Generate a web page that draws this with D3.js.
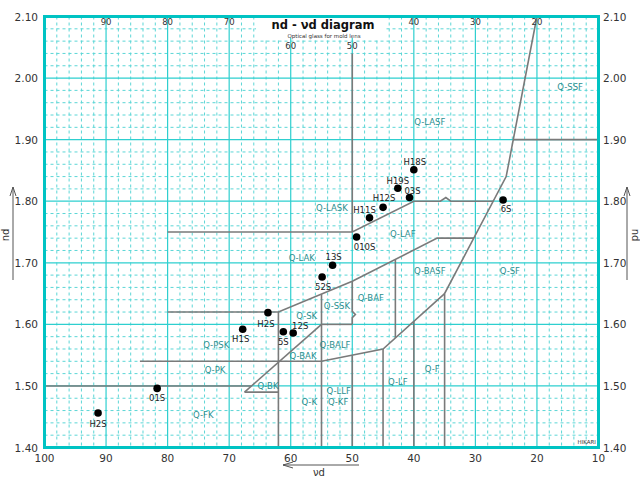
<!DOCTYPE html>
<html><head><meta charset="utf-8">
<script src="https://cdn.jsdelivr.net/npm/d3@7"></script>
<style>body{margin:0;background:#fff}svg{display:block}</style>
</head><body>
<svg id="c" width="640" height="477"></svg>
<script>
// ---- data ----
const xTicks = [100, 90, 80, 70, 60, 50, 40, 30, 20, 10];
const yTicks = [1.40, 1.50, 1.60, 1.70, 1.80, 1.90, 2.00, 2.10];
const glassNames = ["H18S","H19S","03S","H12S","H11S","010S","13S","52S","H2S","H1S","5S","12S","6S","01S","H2S"];
const glassVd =    [40.0, 42.6, 40.7, 45.0, 47.2, 49.3, 53.2, 54.9, 63.7, 67.8, 61.2, 59.6, 25.5, 81.7, 91.3];
const glassNd =    [1.851,1.821,1.806,1.790,1.773,1.742,1.696,1.677,1.619,1.592,1.588,1.586,1.802,1.496,1.456];
const regionNames = ["Q-SSF","Q-LASF","Q-LASK","Q-LAF","Q-LAK","Q-BASF","Q-SF","Q-BAF","Q-SSK","Q-SK","Q-PSK","Q-BALF","Q-BAK","Q-PK","Q-LF","Q-F","Q-BK","Q-LLF","Q-K","Q-KF","Q-FK"];
const regionVd = [14.6, 37.4, 53.3, 41.8, 58.2, 37.4, 24.4, 47.0, 52.5, 57.4, 72.1, 52.8, 58.0, 72.3, 42.6, 37.0, 63.7, 52.2, 57.0, 52.3, 74.2];
const regionNd = [1.986,1.930,1.789,1.748,1.709,1.687,1.687,1.643,1.631,1.615,1.568,1.567,1.549,1.526,1.508,1.529,1.501,1.493,1.474,1.474,1.453];
const boundaries = [
  [[20,2.10],[25,1.84],[35,1.65],[35,1.40]],
  [[23.85,1.90],[10,1.90]],
  [[50,2.04],[50,1.75]],
  [[80,1.75],[50,1.75],[40,1.80],[35.7,1.80],[34.8,1.806],[34.0,1.80],[27.1,1.80]],
  [[80,1.62],[62,1.62],[50,1.67],[36.2,1.74],[30.2,1.74]],
  [[62,1.62],[62,1.40]],
  [[55,1.649],[55,1.40]],
  [[55,1.60],[50,1.60]],
  [[50,1.67],[50,1.621],[49.5,1.616],[50,1.611],[50,1.60]],
  [[43,1.705],[43,1.578]],
  [[84.5,1.54],[55,1.54],[45,1.56],[35,1.65]],
  [[100,1.50],[66.4,1.50]],
  [[67.5,1.49],[62,1.49]],
  [[67.5,1.49],[55,1.60]],
  [[50,1.55],[50,1.40]],
  [[45,1.56],[45,1.40]],
  [[40,1.605],[40,1.40]]
];

// ---- chart ----
const svg = d3.select("#c");
const L = 44.5, R = 598.5, T = 16.5, B = 447.5;
const x = d3.scaleLinear().domain([100, 10]).range([L, R]);
const y = d3.scaleLinear().domain([1.40, 2.10]).range([B, T]);
const cyan = "#2ecfcf";
const minor = "#5cd6d6";
const font = "'DejaVu Sans', sans-serif";

// minor dashed grid
const g = svg.append("g");
d3.range(98, 10, -2).filter(v => v % 10 !== 0).forEach(v => {
  g.append("line").attr("x1", x(v)).attr("x2", x(v)).attr("y1", T).attr("y2", B)
    .attr("stroke", minor).attr("stroke-width", 1).attr("stroke-dasharray", "3,3");
});
d3.range(1.42, 2.10, 0.02).forEach(n => {
  if (Math.abs(Math.round(n * 10) - n * 10) < 1e-6) return;
  g.append("line").attr("x1", L).attr("x2", R).attr("y1", y(n)).attr("y2", y(n))
    .attr("stroke", minor).attr("stroke-width", 1).attr("stroke-dasharray", "3,3");
});
// major grid
xTicks.slice(1, -1).forEach(v => {
  g.append("line").attr("x1", x(v)).attr("x2", x(v)).attr("y1", T).attr("y2", B)
    .attr("stroke", cyan).attr("stroke-width", 1.2);
});
yTicks.slice(1, -1).forEach(n => {
  g.append("line").attr("x1", L).attr("x2", R).attr("y1", y(n)).attr("y2", y(n))
    .attr("stroke", cyan).attr("stroke-width", 1.2);
});

// white backing for title
svg.append("rect").attr("x", 256).attr("y", 18).attr("width", 130).attr("height", 20).attr("fill", "#fff");

// boundaries
const line = d3.line().x(d => x(d[0])).y(d => y(d[1]));
boundaries.forEach(b => {
  svg.append("path").attr("d", line(b)).attr("fill", "none")
    .attr("stroke", "#7a7a7a").attr("stroke-width", 1.6).attr("stroke-linejoin", "miter");
});

// border
svg.append("rect").attr("x", L).attr("y", T).attr("width", R - L).attr("height", B - T)
  .attr("fill", "none").attr("stroke", "#00c3c3").attr("stroke-width", 3);

// axis tick labels
const tk = svg.append("g").attr("font-family", font).attr("font-size", 10.5).attr("fill", "#333");
xTicks.forEach(v => {
  tk.append("text").attr("x", x(v)).attr("y", 462).attr("text-anchor", "middle").text(v);
});
xTicks.slice(1, -1).forEach(v => {
  const yy = (v === 60 || v === 50) ? 49 : 25;
  tk.append("text").attr("x", x(v)).attr("y", yy).attr("text-anchor", "middle")
    .attr("font-size", 8.5).text(v);
});
yTicks.forEach(n => {
  tk.append("text").attr("x", 38).attr("y", y(n) + 4).attr("text-anchor", "end").text(n.toFixed(2));
  tk.append("text").attr("x", 603).attr("y", y(n) + 4).attr("text-anchor", "start").text(n.toFixed(2));
});

// title
svg.append("text").attr("x", 323).attr("y", 29).attr("text-anchor", "middle")
  .attr("font-family", font).attr("font-weight", "bold").attr("font-size", 11.5).attr("fill", "#111")
  .text("nd - νd diagram");
svg.append("text").attr("x", 324).attr("y", 37.5).attr("text-anchor", "middle")
  .attr("font-family", font).attr("font-size", 5.5).attr("fill", "#333")
  .text("Optical glass for mold lens");
svg.append("text").attr("x", 596).attr("y", 444).attr("text-anchor", "end")
  .attr("font-family", font).attr("font-size", 5.5).attr("fill", "#333").text("HIKARI");

// axis arrows
const arr = svg.append("g").attr("stroke", "#555").attr("stroke-width", 1).attr("fill", "none");
arr.append("line").attr("x1", 13).attr("x2", 13).attr("y1", 187).attr("y2", 280);
arr.append("path").attr("d", "M10,196 L13,187 L16,196");
arr.append("line").attr("x1", 627).attr("x2", 627).attr("y1", 187).attr("y2", 280);
arr.append("path").attr("d", "M624,196 L627,187 L630,196");
arr.append("line").attr("x1", 283).attr("x2", 359).attr("y1", 465).attr("y2", 465);
arr.append("path").attr("d", "M293,462 L283,465 L293,468");
svg.append("text").attr("transform", "translate(9,235) rotate(-90)").attr("text-anchor", "middle")
  .attr("font-family", font).attr("font-size", 10).attr("fill", "#333").text("nd");
svg.append("text").attr("transform", "translate(632,235) rotate(90)").attr("text-anchor", "middle")
  .attr("font-family", font).attr("font-size", 10).attr("fill", "#333").text("nd");
svg.append("text").attr("x", 319).attr("y", 476).attr("text-anchor", "middle")
  .attr("font-family", font).attr("font-size", 10).attr("fill", "#333").text("νd");

// region labels
regionNames.forEach((nm, i) => {
  svg.append("text").attr("x", x(regionVd[i])).attr("y", y(regionNd[i]) + 3.5)
    .attr("text-anchor", "middle").attr("font-family", font).attr("font-size", 8.5)
    .attr("fill", "#2a8f8f").text(nm);
});

// glass points
const place = {0:[1,-5],1:[0,-4],2:[3,-4],3:[1,-6],4:[-5,-5],5:[8,13],6:[1,-5],7:[1,13],8:[-2,14],9:[-2,13],10:[0,13],11:[7,-4],12:[3,12],13:[0,13],14:[0,14]};
glassNames.forEach((nm, i) => {
  const cx = x(glassVd[i]), cy = y(glassNd[i]);
  svg.append("circle").attr("cx", cx).attr("cy", cy).attr("r", 3.8).attr("fill", "#000");
  svg.append("text").attr("x", cx + place[i][0]).attr("y", cy + place[i][1])
    .attr("text-anchor", "middle").attr("font-family", font).attr("font-size", 8.5)
    .attr("fill", "#222").text(nm);
});
</script>
</body></html>
